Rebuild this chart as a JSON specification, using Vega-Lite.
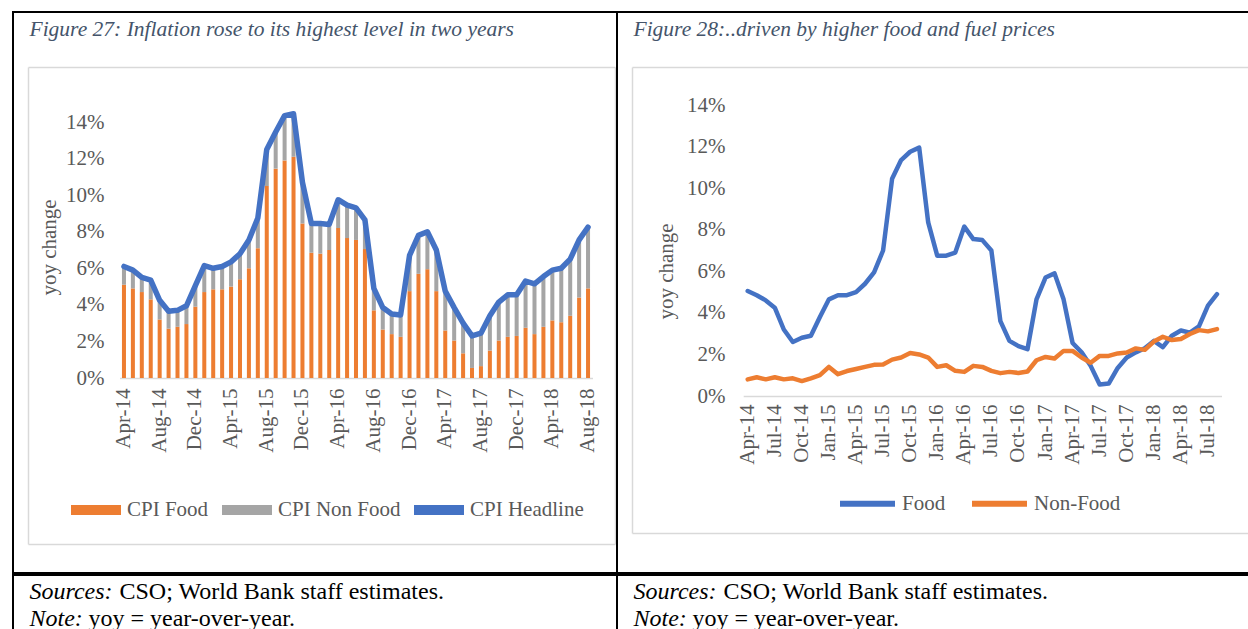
{
  "$schema": "https://vega.github.io/schema/vega-lite/v6.json",
  "padding": {"left": 12, "top": 11, "right": 0, "bottom": 0},
  "config": {
    "view": {"stroke": "#000000", "strokeWidth": 2},
    "font": "Liberation Serif",
    "axis": {"labelFont": "Liberation Serif", "labelFontSize": 21, "labelColor": "#595959", "titleFont": "Liberation Serif", "titleFontSize": 21, "titleColor": "#595959", "titleFontWeight": "normal", "grid": false, "ticks": false, "domainColor": "#D9D9D9", "domainWidth": 1.5, "labelOverlap": false, "labelBound": false},
    "legend": {"labelFont": "Liberation Serif", "labelFontSize": 21, "labelColor": "#595959", "labelOffset": 6}
  },
  "datasets": {
    "cpi": [
      {"m":"Apr-14","s":"CPI Food","v":5.1},{"m":"Apr-14","s":"CPI Non Food","v":1.0},{"m":"Apr-14","s":"CPI Headline","v":6.1},
      {"m":"May-14","s":"CPI Food","v":4.9},{"m":"May-14","s":"CPI Non Food","v":1.0},{"m":"May-14","s":"CPI Headline","v":5.9},
      {"m":"Jun-14","s":"CPI Food","v":4.7},{"m":"Jun-14","s":"CPI Non Food","v":0.8},{"m":"Jun-14","s":"CPI Headline","v":5.5},
      {"m":"Jul-14","s":"CPI Food","v":4.3},{"m":"Jul-14","s":"CPI Non Food","v":1.05},{"m":"Jul-14","s":"CPI Headline","v":5.35},
      {"m":"Aug-14","s":"CPI Food","v":3.2},{"m":"Aug-14","s":"CPI Non Food","v":1.05},{"m":"Aug-14","s":"CPI Headline","v":4.25},
      {"m":"Sep-14","s":"CPI Food","v":2.7},{"m":"Sep-14","s":"CPI Non Food","v":0.95},{"m":"Sep-14","s":"CPI Headline","v":3.65},
      {"m":"Oct-14","s":"CPI Food","v":2.8},{"m":"Oct-14","s":"CPI Non Food","v":0.9},{"m":"Oct-14","s":"CPI Headline","v":3.7},
      {"m":"Nov-14","s":"CPI Food","v":2.95},{"m":"Nov-14","s":"CPI Non Food","v":1.0},{"m":"Nov-14","s":"CPI Headline","v":3.95},
      {"m":"Dec-14","s":"CPI Food","v":3.9},{"m":"Dec-14","s":"CPI Non Food","v":1.15},{"m":"Dec-14","s":"CPI Headline","v":5.05},
      {"m":"Jan-15","s":"CPI Food","v":4.7},{"m":"Jan-15","s":"CPI Non Food","v":1.45},{"m":"Jan-15","s":"CPI Headline","v":6.15},
      {"m":"Feb-15","s":"CPI Food","v":4.85},{"m":"Feb-15","s":"CPI Non Food","v":1.15},{"m":"Feb-15","s":"CPI Headline","v":6.0},
      {"m":"Mar-15","s":"CPI Food","v":4.85},{"m":"Mar-15","s":"CPI Non Food","v":1.25},{"m":"Mar-15","s":"CPI Headline","v":6.1},
      {"m":"Apr-15","s":"CPI Food","v":5.0},{"m":"Apr-15","s":"CPI Non Food","v":1.35},{"m":"Apr-15","s":"CPI Headline","v":6.35},
      {"m":"May-15","s":"CPI Food","v":5.4},{"m":"May-15","s":"CPI Non Food","v":1.4},{"m":"May-15","s":"CPI Headline","v":6.8},
      {"m":"Jun-15","s":"CPI Food","v":6.0},{"m":"Jun-15","s":"CPI Non Food","v":1.55},{"m":"Jun-15","s":"CPI Headline","v":7.55},
      {"m":"Jul-15","s":"CPI Food","v":7.1},{"m":"Jul-15","s":"CPI Non Food","v":1.65},{"m":"Jul-15","s":"CPI Headline","v":8.75},
      {"m":"Aug-15","s":"CPI Food","v":10.5},{"m":"Aug-15","s":"CPI Non Food","v":2.0},{"m":"Aug-15","s":"CPI Headline","v":12.5},
      {"m":"Sep-15","s":"CPI Food","v":11.45},{"m":"Sep-15","s":"CPI Non Food","v":2.0},{"m":"Sep-15","s":"CPI Headline","v":13.45},
      {"m":"Oct-15","s":"CPI Food","v":11.9},{"m":"Oct-15","s":"CPI Non Food","v":2.45},{"m":"Oct-15","s":"CPI Headline","v":14.35},
      {"m":"Nov-15","s":"CPI Food","v":12.1},{"m":"Nov-15","s":"CPI Non Food","v":2.35},{"m":"Nov-15","s":"CPI Headline","v":14.45},
      {"m":"Dec-15","s":"CPI Food","v":8.45},{"m":"Dec-15","s":"CPI Non Food","v":2.25},{"m":"Dec-15","s":"CPI Headline","v":10.7},
      {"m":"Jan-16","s":"CPI Food","v":6.85},{"m":"Jan-16","s":"CPI Non Food","v":1.6},{"m":"Jan-16","s":"CPI Headline","v":8.45},
      {"m":"Feb-16","s":"CPI Food","v":6.8},{"m":"Feb-16","s":"CPI Non Food","v":1.65},{"m":"Feb-16","s":"CPI Headline","v":8.45},
      {"m":"Mar-16","s":"CPI Food","v":7.0},{"m":"Mar-16","s":"CPI Non Food","v":1.4},{"m":"Mar-16","s":"CPI Headline","v":8.4},
      {"m":"Apr-16","s":"CPI Food","v":8.2},{"m":"Apr-16","s":"CPI Non Food","v":1.55},{"m":"Apr-16","s":"CPI Headline","v":9.75},
      {"m":"May-16","s":"CPI Food","v":7.65},{"m":"May-16","s":"CPI Non Food","v":1.8},{"m":"May-16","s":"CPI Headline","v":9.45},
      {"m":"Jun-16","s":"CPI Food","v":7.55},{"m":"Jun-16","s":"CPI Non Food","v":1.75},{"m":"Jun-16","s":"CPI Headline","v":9.3},
      {"m":"Jul-16","s":"CPI Food","v":7.05},{"m":"Jul-16","s":"CPI Non Food","v":1.6},{"m":"Jul-16","s":"CPI Headline","v":8.65},
      {"m":"Aug-16","s":"CPI Food","v":3.7},{"m":"Aug-16","s":"CPI Non Food","v":1.2},{"m":"Aug-16","s":"CPI Headline","v":4.9},
      {"m":"Sep-16","s":"CPI Food","v":2.65},{"m":"Sep-16","s":"CPI Non Food","v":1.2},{"m":"Sep-16","s":"CPI Headline","v":3.85},
      {"m":"Oct-16","s":"CPI Food","v":2.4},{"m":"Oct-16","s":"CPI Non Food","v":1.1},{"m":"Oct-16","s":"CPI Headline","v":3.5},
      {"m":"Nov-16","s":"CPI Food","v":2.25},{"m":"Nov-16","s":"CPI Non Food","v":1.2},{"m":"Nov-16","s":"CPI Headline","v":3.45},
      {"m":"Dec-16","s":"CPI Food","v":4.75},{"m":"Dec-16","s":"CPI Non Food","v":1.95},{"m":"Dec-16","s":"CPI Headline","v":6.7},
      {"m":"Jan-17","s":"CPI Food","v":5.7},{"m":"Jan-17","s":"CPI Non Food","v":2.1},{"m":"Jan-17","s":"CPI Headline","v":7.8},
      {"m":"Feb-17","s":"CPI Food","v":5.95},{"m":"Feb-17","s":"CPI Non Food","v":2.05},{"m":"Feb-17","s":"CPI Headline","v":8.0},
      {"m":"Mar-17","s":"CPI Food","v":4.75},{"m":"Mar-17","s":"CPI Non Food","v":2.25},{"m":"Mar-17","s":"CPI Headline","v":7.0},
      {"m":"Apr-17","s":"CPI Food","v":2.6},{"m":"Apr-17","s":"CPI Non Food","v":2.15},{"m":"Apr-17","s":"CPI Headline","v":4.75},
      {"m":"May-17","s":"CPI Food","v":2.05},{"m":"May-17","s":"CPI Non Food","v":1.8},{"m":"May-17","s":"CPI Headline","v":3.85},
      {"m":"Jun-17","s":"CPI Food","v":1.35},{"m":"Jun-17","s":"CPI Non Food","v":1.65},{"m":"Jun-17","s":"CPI Headline","v":3.0},
      {"m":"Jul-17","s":"CPI Food","v":0.55},{"m":"Jul-17","s":"CPI Non Food","v":1.75},{"m":"Jul-17","s":"CPI Headline","v":2.3},
      {"m":"Aug-17","s":"CPI Food","v":0.65},{"m":"Aug-17","s":"CPI Non Food","v":1.8},{"m":"Aug-17","s":"CPI Headline","v":2.45},
      {"m":"Sep-17","s":"CPI Food","v":1.5},{"m":"Sep-17","s":"CPI Non Food","v":1.9},{"m":"Sep-17","s":"CPI Headline","v":3.4},
      {"m":"Oct-17","s":"CPI Food","v":2.05},{"m":"Oct-17","s":"CPI Non Food","v":2.1},{"m":"Oct-17","s":"CPI Headline","v":4.15},
      {"m":"Nov-17","s":"CPI Food","v":2.25},{"m":"Nov-17","s":"CPI Non Food","v":2.3},{"m":"Nov-17","s":"CPI Headline","v":4.55},
      {"m":"Dec-17","s":"CPI Food","v":2.3},{"m":"Dec-17","s":"CPI Non Food","v":2.25},{"m":"Dec-17","s":"CPI Headline","v":4.55},
      {"m":"Jan-18","s":"CPI Food","v":2.75},{"m":"Jan-18","s":"CPI Non Food","v":2.55},{"m":"Jan-18","s":"CPI Headline","v":5.3},
      {"m":"Feb-18","s":"CPI Food","v":2.4},{"m":"Feb-18","s":"CPI Non Food","v":2.75},{"m":"Feb-18","s":"CPI Headline","v":5.15},
      {"m":"Mar-18","s":"CPI Food","v":2.8},{"m":"Mar-18","s":"CPI Non Food","v":2.75},{"m":"Mar-18","s":"CPI Headline","v":5.55},
      {"m":"Apr-18","s":"CPI Food","v":3.15},{"m":"Apr-18","s":"CPI Non Food","v":2.75},{"m":"Apr-18","s":"CPI Headline","v":5.9},
      {"m":"May-18","s":"CPI Food","v":3.05},{"m":"May-18","s":"CPI Non Food","v":2.95},{"m":"May-18","s":"CPI Headline","v":6.0},
      {"m":"Jun-18","s":"CPI Food","v":3.4},{"m":"Jun-18","s":"CPI Non Food","v":3.1},{"m":"Jun-18","s":"CPI Headline","v":6.5},
      {"m":"Jul-18","s":"CPI Food","v":4.4},{"m":"Jul-18","s":"CPI Non Food","v":3.15},{"m":"Jul-18","s":"CPI Headline","v":7.55},
      {"m":"Aug-18","s":"CPI Food","v":4.9},{"m":"Aug-18","s":"CPI Non Food","v":3.35},{"m":"Aug-18","s":"CPI Headline","v":8.25}
    ],
    "fnf": [
      {"m":"Apr-14","s":"Food","v":5.05},{"m":"Apr-14","s":"Non-Food","v":0.8},
      {"m":"May-14","s":"Food","v":4.85},{"m":"May-14","s":"Non-Food","v":0.9},
      {"m":"Jun-14","s":"Food","v":4.6},{"m":"Jun-14","s":"Non-Food","v":0.8},
      {"m":"Jul-14","s":"Food","v":4.25},{"m":"Jul-14","s":"Non-Food","v":0.9},
      {"m":"Aug-14","s":"Food","v":3.2},{"m":"Aug-14","s":"Non-Food","v":0.8},
      {"m":"Sep-14","s":"Food","v":2.6},{"m":"Sep-14","s":"Non-Food","v":0.85},
      {"m":"Oct-14","s":"Food","v":2.8},{"m":"Oct-14","s":"Non-Food","v":0.72},
      {"m":"Nov-14","s":"Food","v":2.9},{"m":"Nov-14","s":"Non-Food","v":0.85},
      {"m":"Dec-14","s":"Food","v":3.8},{"m":"Dec-14","s":"Non-Food","v":1.0},
      {"m":"Jan-15","s":"Food","v":4.65},{"m":"Jan-15","s":"Non-Food","v":1.4},
      {"m":"Feb-15","s":"Food","v":4.85},{"m":"Feb-15","s":"Non-Food","v":1.05},
      {"m":"Mar-15","s":"Food","v":4.85},{"m":"Mar-15","s":"Non-Food","v":1.2},
      {"m":"Apr-15","s":"Food","v":5.0},{"m":"Apr-15","s":"Non-Food","v":1.3},
      {"m":"May-15","s":"Food","v":5.4},{"m":"May-15","s":"Non-Food","v":1.4},
      {"m":"Jun-15","s":"Food","v":5.95},{"m":"Jun-15","s":"Non-Food","v":1.5},
      {"m":"Jul-15","s":"Food","v":7.0},{"m":"Jul-15","s":"Non-Food","v":1.52},
      {"m":"Aug-15","s":"Food","v":10.45},{"m":"Aug-15","s":"Non-Food","v":1.75},
      {"m":"Sep-15","s":"Food","v":11.35},{"m":"Sep-15","s":"Non-Food","v":1.85},
      {"m":"Oct-15","s":"Food","v":11.75},{"m":"Oct-15","s":"Non-Food","v":2.07},
      {"m":"Nov-15","s":"Food","v":11.95},{"m":"Nov-15","s":"Non-Food","v":2.0},
      {"m":"Dec-15","s":"Food","v":8.35},{"m":"Dec-15","s":"Non-Food","v":1.85},
      {"m":"Jan-16","s":"Food","v":6.75},{"m":"Jan-16","s":"Non-Food","v":1.4},
      {"m":"Feb-16","s":"Food","v":6.75},{"m":"Feb-16","s":"Non-Food","v":1.48},
      {"m":"Mar-16","s":"Food","v":6.9},{"m":"Mar-16","s":"Non-Food","v":1.21},
      {"m":"Apr-16","s":"Food","v":8.15},{"m":"Apr-16","s":"Non-Food","v":1.16},
      {"m":"May-16","s":"Food","v":7.55},{"m":"May-16","s":"Non-Food","v":1.45},
      {"m":"Jun-16","s":"Food","v":7.5},{"m":"Jun-16","s":"Non-Food","v":1.4},
      {"m":"Jul-16","s":"Food","v":7.0},{"m":"Jul-16","s":"Non-Food","v":1.21},
      {"m":"Aug-16","s":"Food","v":3.6},{"m":"Aug-16","s":"Non-Food","v":1.1},
      {"m":"Sep-16","s":"Food","v":2.65},{"m":"Sep-16","s":"Non-Food","v":1.16},
      {"m":"Oct-16","s":"Food","v":2.4},{"m":"Oct-16","s":"Non-Food","v":1.11},
      {"m":"Nov-16","s":"Food","v":2.25},{"m":"Nov-16","s":"Non-Food","v":1.18},
      {"m":"Dec-16","s":"Food","v":4.65},{"m":"Dec-16","s":"Non-Food","v":1.72},
      {"m":"Jan-17","s":"Food","v":5.7},{"m":"Jan-17","s":"Non-Food","v":1.88},
      {"m":"Feb-17","s":"Food","v":5.9},{"m":"Feb-17","s":"Non-Food","v":1.8},
      {"m":"Mar-17","s":"Food","v":4.65},{"m":"Mar-17","s":"Non-Food","v":2.17},
      {"m":"Apr-17","s":"Food","v":2.55},{"m":"Apr-17","s":"Non-Food","v":2.17},
      {"m":"May-17","s":"Food","v":2.1},{"m":"May-17","s":"Non-Food","v":1.85},
      {"m":"Jun-17","s":"Food","v":1.45},{"m":"Jun-17","s":"Non-Food","v":1.6},
      {"m":"Jul-17","s":"Food","v":0.55},{"m":"Jul-17","s":"Non-Food","v":1.93},
      {"m":"Aug-17","s":"Food","v":0.6},{"m":"Aug-17","s":"Non-Food","v":1.93},
      {"m":"Sep-17","s":"Food","v":1.35},{"m":"Sep-17","s":"Non-Food","v":2.05},
      {"m":"Oct-17","s":"Food","v":1.85},{"m":"Oct-17","s":"Non-Food","v":2.09},
      {"m":"Nov-17","s":"Food","v":2.1},{"m":"Nov-17","s":"Non-Food","v":2.29},
      {"m":"Dec-17","s":"Food","v":2.3},{"m":"Dec-17","s":"Non-Food","v":2.22},
      {"m":"Jan-18","s":"Food","v":2.65},{"m":"Jan-18","s":"Non-Food","v":2.62},
      {"m":"Feb-18","s":"Food","v":2.35},{"m":"Feb-18","s":"Non-Food","v":2.85},
      {"m":"Mar-18","s":"Food","v":2.9},{"m":"Mar-18","s":"Non-Food","v":2.69},
      {"m":"Apr-18","s":"Food","v":3.15},{"m":"Apr-18","s":"Non-Food","v":2.74},
      {"m":"May-18","s":"Food","v":3.05},{"m":"May-18","s":"Non-Food","v":2.98},
      {"m":"Jun-18","s":"Food","v":3.35},{"m":"Jun-18","s":"Non-Food","v":3.17},
      {"m":"Jul-18","s":"Food","v":4.35},{"m":"Jul-18","s":"Non-Food","v":3.11},
      {"m":"Aug-18","s":"Food","v":4.9},{"m":"Aug-18","s":"Non-Food","v":3.22}
    ]
  },
  "spacing": 0,
  "resolve": {"scale": {"color": "independent"}, "legend": {"color": "independent"}},
  "vconcat": [
    {
      "hconcat": [
        {
          "width": 604,
          "height": 561,
          "layer": [
            {
              "data": {"name": "cpi"},
              "encoding": {
                "x": {"field": "m", "type": "ordinal", "sort": null, "title": "Figure 27: Inflation rose to its highest level in two years",
                  "scale": {"type": "band", "range": [106.5, 579.5], "paddingInner": 0.55, "paddingOuter": 0.275},
                  "axis": {"orient": "bottom", "offset": -195, "labelAngle": 270, "labelPadding": 10, "values": ["Apr-14","Aug-14","Dec-14","Apr-15","Aug-15","Dec-15","Apr-16","Aug-16","Dec-16","Apr-17","Aug-17","Dec-17","Apr-18","Aug-18"],
                    "titleX": 16, "titleY": -343, "titleAngle": 0, "titleAlign": "left", "titleBaseline": "alphabetic", "titleFontStyle": "italic", "titleFontSize": 21.5, "titleColor": "#44546A"}}
              },
              "layer": [
                {
                  "transform": [{"filter": "datum.s !== 'CPI Headline'"}],
                  "mark": {"type": "bar"},
                  "encoding": {
                    "y": {"field": "v", "type": "quantitative", "stack": "zero", "title": "yoy change",
                      "scale": {"domain": [0, 14], "range": [366, 110], "nice": false},
                      "axis": {"orient": "left", "offset": -97, "labelPadding": 6, "domain": false, "values": [0,2,4,6,8,10,12,14], "labelExpr": "datum.value + '%'", "titleAngle": 270, "titleX": -61, "titleY": 235, "titleAlign": "center", "titleBaseline": "middle"}},
                    "color": {"field": "s", "type": "nominal",
                      "scale": {"domain": ["CPI Food", "CPI Non Food", "CPI Headline"], "range": ["#ED7D31", "#A5A5A5", "#4472C4"]},
                      "legend": {"orient": "none", "legendX": 58, "legendY": 473, "direction": "horizontal", "title": null, "symbolType": "M-1,-0.2H1V0.2H-1Z", "symbolSize": 2500, "columnPadding": 13, "symbolStrokeWidth": 0, "symbolOpacity": 1}},
                    "order": {"field": "s", "sort": "ascending"}
                  }
                },
                {
                  "transform": [{"filter": "datum.s === 'CPI Headline'"}],
                  "mark": {"type": "line", "strokeWidth": 5.5, "strokeJoin": "round", "strokeCap": "round"},
                  "encoding": {
                    "y": {"field": "v", "type": "quantitative"},
                    "color": {"field": "s", "type": "nominal"}
                  }
                }
              ]
            },
            {
              "data": {"values": []},
              "mark": "point",
              "encoding": {
                "x": {"field": "fx", "type": "quantitative", "title": null, "scale": {"domain": [0, 1], "range": [15, 602]},
                  "axis": {"orient": "bottom", "offset": -29, "labels": false, "ticks": false, "domainColor": "#D9D9D9", "domainWidth": 1.5}},
                "y": {"field": "fy", "type": "quantitative", "title": null, "scale": {"domain": [0, 1], "range": [532, 55]},
                  "axis": {"orient": "left", "offset": -15, "labels": false, "ticks": false, "domainColor": "#D9D9D9", "domainWidth": 1.5}}
              }
            },
            {
              "data": {"values": []},
              "mark": "point",
              "encoding": {
                "x": {"field": "fx", "type": "quantitative", "title": null, "scale": {"domain": [0, 1], "range": [15, 602]},
                  "axis": {"orient": "top", "offset": -55, "labels": false, "ticks": false, "domainColor": "#D9D9D9", "domainWidth": 1.5}},
                "y": {"field": "fy", "type": "quantitative", "title": null, "scale": {"domain": [0, 1], "range": [532, 55]},
                  "axis": {"orient": "right", "offset": -2, "labels": false, "ticks": false, "domainColor": "#D9D9D9", "domainWidth": 1.5}}
              }
            }
          ],
          "resolve": {"scale": {"x": "independent", "y": "independent"}, "axis": {"x": "independent", "y": "independent"}}
        },
        {
          "width": 650,
          "height": 561,
          "layer": [
            {
              "data": {"name": "fnf"},
              "mark": {"type": "line", "strokeWidth": 4.5, "strokeJoin": "round", "strokeCap": "round"},
              "encoding": {
                "x": {"field": "m", "type": "ordinal", "sort": null, "title": "Figure 28:..driven by higher food and fuel prices",
                  "scale": {"type": "band", "range": [126.2, 604.5], "paddingInner": 0, "paddingOuter": 0},
                  "axis": {"orient": "bottom", "offset": -177, "labelAngle": 270, "labelPadding": 8, "values": ["Apr-14","Jul-14","Oct-14","Jan-15","Apr-15","Jul-15","Oct-15","Jan-16","Apr-16","Jul-16","Oct-16","Jan-17","Apr-17","Jul-17","Oct-17","Jan-18","Apr-18","Jul-18"],
                    "titleX": 16, "titleY": -361, "titleAngle": 0, "titleAlign": "left", "titleBaseline": "alphabetic", "titleFontStyle": "italic", "titleFontSize": 21.5, "titleColor": "#44546A"}},
                "y": {"field": "v", "type": "quantitative", "title": "yoy change",
                  "scale": {"domain": [0, 14], "range": [384, 93], "nice": false},
                  "axis": {"orient": "left", "offset": -114, "labelPadding": 6, "domain": false, "values": [0,2,4,6,8,10,12,14], "labelExpr": "datum.value + '%'", "titleAngle": 270, "titleX": -65, "titleY": 259, "titleAlign": "center", "titleBaseline": "middle"}},
                "color": {"field": "s", "type": "nominal", "sort": null,
                  "scale": {"domain": ["Food", "Non-Food"], "range": ["#4472C4", "#ED7D31"]},
                  "legend": {"orient": "none", "legendX": 220, "legendY": 461, "direction": "horizontal", "title": null, "symbolType": "stroke", "symbolSize": 3025, "symbolStrokeWidth": 6, "columnPadding": 14, "labelOffset": 4}}
              }
            },
            {
              "data": {"values": []},
              "mark": "point",
              "encoding": {
                "x": {"field": "fx", "type": "quantitative", "title": null, "scale": {"domain": [0, 1], "range": [15, 660]},
                  "axis": {"orient": "bottom", "offset": -40, "labels": false, "ticks": false, "domainColor": "#D9D9D9", "domainWidth": 1.5}},
                "y": {"field": "fy", "type": "quantitative", "title": null, "scale": {"domain": [0, 1], "range": [521, 55]},
                  "axis": {"orient": "left", "offset": -15, "labels": false, "ticks": false, "domainColor": "#D9D9D9", "domainWidth": 1.5}}
              }
            },
            {
              "data": {"values": []},
              "mark": "point",
              "encoding": {
                "x": {"field": "fx", "type": "quantitative", "title": null, "scale": {"domain": [0, 1], "range": [15, 660]},
                  "axis": {"orient": "top", "offset": -55, "labels": false, "ticks": false, "domainColor": "#D9D9D9", "domainWidth": 1.5}},
                "y": {"field": "fy", "type": "quantitative", "title": null, "scale": {"domain": [0, 1], "range": [521, 55]},
                  "axis": {"orient": "right", "labels": false, "ticks": false, "domain": false}}
              }
            }
          ],
          "resolve": {"scale": {"x": "independent", "y": "independent"}, "axis": {"x": "independent", "y": "independent"}}
        }
      ],
      "spacing": 0,
      "bounds": "flush",
      "resolve": {"scale": {"color": "independent"}, "legend": {"color": "independent"}}
    },
    {
      "hconcat": [
        {
          "width": 604,
          "height": 60,
          "layer": [
            {
              "data": {"values": []},
              "mark": "point",
              "encoding": {
                "x": {"field": "a", "type": "quantitative", "title": "Sources:", "scale": {"domain": [0, 1]},
                  "axis": {"orient": "bottom", "labels": false, "domain": false, "ticks": false, "titleX": 16, "titleY": -37, "titleAngle": 0, "titleAlign": "left", "titleBaseline": "alphabetic", "titleFontStyle": "italic", "titleFontSize": 24, "titleColor": "#000000"}},
                "y": {"field": "b", "type": "quantitative", "title": "Note:", "scale": {"domain": [0, 1]},
                  "axis": {"orient": "left", "labels": false, "domain": false, "ticks": false, "titleX": 16, "titleY": 50, "titleAngle": 0, "titleAlign": "left", "titleBaseline": "alphabetic", "titleFontStyle": "italic", "titleFontSize": 24, "titleColor": "#000000"}}
              }
            },
            {
              "data": {"values": []},
              "mark": "point",
              "encoding": {
                "x": {"field": "a", "type": "quantitative", "title": "CSO; World Bank staff estimates.", "scale": {"domain": [0, 1]},
                  "axis": {"orient": "top", "labels": false, "domain": false, "ticks": false, "titleX": 106, "titleY": 23, "titleAngle": 0, "titleAlign": "left", "titleBaseline": "alphabetic", "titleFontSize": 24, "titleColor": "#000000"}},
                "y": {"field": "b", "type": "quantitative", "title": "yoy = year-over-year.", "scale": {"domain": [0, 1]},
                  "axis": {"orient": "right", "labels": false, "domain": false, "ticks": false, "titleX": -529, "titleY": 50, "titleAngle": 0, "titleAlign": "left", "titleBaseline": "alphabetic", "titleFontSize": 24, "titleColor": "#000000"}}
              }
            }
          ],
          "resolve": {"scale": {"x": "independent", "y": "independent"}, "axis": {"x": "independent", "y": "independent"}}
        },
        {
          "width": 650,
          "height": 60,
          "layer": [
            {
              "data": {"values": []},
              "mark": "point",
              "encoding": {
                "x": {"field": "a", "type": "quantitative", "title": "Sources:", "scale": {"domain": [0, 1]},
                  "axis": {"orient": "bottom", "labels": false, "domain": false, "ticks": false, "titleX": 16, "titleY": -37, "titleAngle": 0, "titleAlign": "left", "titleBaseline": "alphabetic", "titleFontStyle": "italic", "titleFontSize": 24, "titleColor": "#000000"}},
                "y": {"field": "b", "type": "quantitative", "title": "Note:", "scale": {"domain": [0, 1]},
                  "axis": {"orient": "left", "labels": false, "domain": false, "ticks": false, "titleX": 16, "titleY": 50, "titleAngle": 0, "titleAlign": "left", "titleBaseline": "alphabetic", "titleFontStyle": "italic", "titleFontSize": 24, "titleColor": "#000000"}}
              }
            },
            {
              "data": {"values": []},
              "mark": "point",
              "encoding": {
                "x": {"field": "a", "type": "quantitative", "title": "CSO; World Bank staff estimates.", "scale": {"domain": [0, 1]},
                  "axis": {"orient": "top", "labels": false, "domain": false, "ticks": false, "titleX": 106, "titleY": 23, "titleAngle": 0, "titleAlign": "left", "titleBaseline": "alphabetic", "titleFontSize": 24, "titleColor": "#000000"}},
                "y": {"field": "b", "type": "quantitative", "title": "yoy = year-over-year.", "scale": {"domain": [0, 1]},
                  "axis": {"orient": "right", "labels": false, "domain": false, "ticks": false, "titleX": -575, "titleY": 50, "titleAngle": 0, "titleAlign": "left", "titleBaseline": "alphabetic", "titleFontSize": 24, "titleColor": "#000000"}}
              }
            }
          ],
          "resolve": {"scale": {"x": "independent", "y": "independent"}, "axis": {"x": "independent", "y": "independent"}}
        }
      ],
      "spacing": 0,
      "bounds": "flush"
    }
  ]
}
